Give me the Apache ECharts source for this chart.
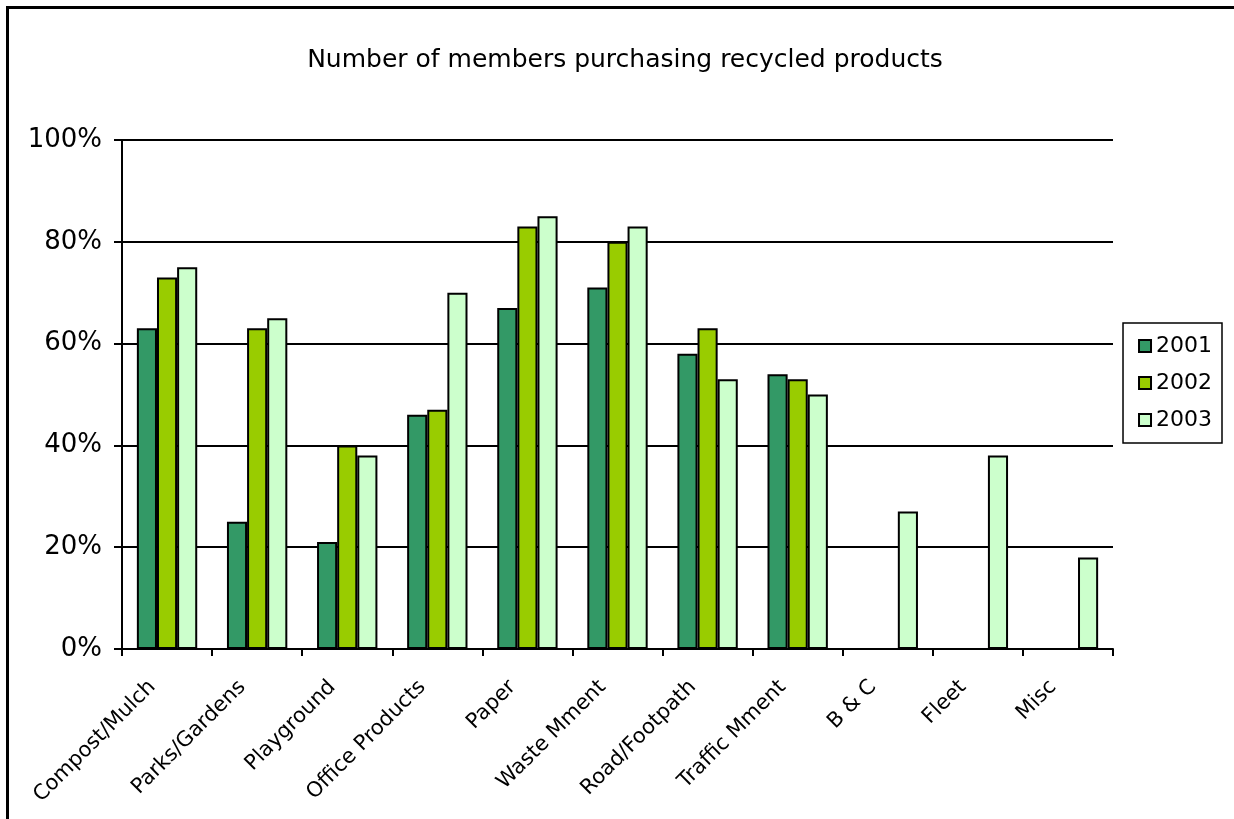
<!DOCTYPE html>
<html>
<head>
<meta charset="utf-8">
<script src="https://cdn.jsdelivr.net/npm/echarts@6/dist/echarts.min.js"></script>
<style>html,body{margin:0;padding:0;background:#fff;}#c{width:1234px;height:819px;}</style>
</head>
<body>
<div id="c"></div>
<script>
const categories = ['Compost/Mulch','Parks/Gardens','Playground','Office Products','Paper','Waste Mment','Road/Footpath','Traffic Mment','B & C','Fleet','Misc'];
const seriesNames = ['2001','2002','2003'];
const values2001 = [63, 25, 21, 46, 67, 71, 58, 54, null, null, null];
const values2002 = [73, 63, 40, 47, 83, 80, 63, 53, null, null, null];
const values2003 = [75, 65, 38, 70, 85, 83, 53, 50, 27, 38, 18];
const yTicks = [0, 20, 40, 60, 80, 100];
const colors = ['#339966', '#99CC00', '#CCFFCC'];
const titleText = 'Number of members purchasing recycled products';

const FONT = 'DejaVu Sans';
const chart = echarts.init(document.getElementById('c'), null, {renderer: 'canvas'});
const seriesData = [values2001, values2002, values2003];
chart.setOption({
  animation: false,
  backgroundColor: '#fff',
  title: {
    text: titleText, left: 620, top: 43, textAlign: 'center',
    textStyle: {fontFamily: FONT, fontSize: 25, fontWeight: 'normal', color: '#000'}
  },
  grid: {left: 122, right: 121, top: 140, bottom: 170, containLabel: false},
  legend: {
    orient: 'vertical', right: 12, top: 323,
    data: seriesNames,
    icon: 'rect', itemWidth: 12, itemHeight: 12, itemGap: 15,
    borderColor: '#000', borderWidth: 1.5, padding: [12, 10, 12, 15],
    textStyle: {fontFamily: FONT, fontSize: 22, color: '#000', lineHeight: 22}
  },
  xAxis: {
    type: 'category', data: categories,
    axisLine: {lineStyle: {color: '#000', width: 2}},
    axisTick: {show: true, alignWithLabel: false, length: 7, lineStyle: {color: '#000', width: 2}},
    axisLabel: {rotate: 45, interval: 0, margin: 20, padding: [0, 21, 0, 0], fontFamily: FONT, fontSize: 21, color: '#000'}
  },
  yAxis: {
    type: 'value', min: 0, max: 100, interval: 20,
    axisLine: {show: true, lineStyle: {color: '#000', width: 2}},
    axisTick: {show: true, length: 8, lineStyle: {color: '#000', width: 2}},
    axisLabel: {formatter: v => yTicks.includes(v) ? v + '%' : '', margin: 20, fontFamily: FONT, fontSize: 26, color: '#000'},
    splitLine: {lineStyle: {color: '#000', width: 2}}
  },
  series: seriesNames.map((n, i) => ({
    name: n, type: 'bar', data: seriesData[i],
    barGap: '0%', barCategoryGap: '33%',
    itemStyle: {color: colors[i], borderColor: '#000', borderWidth: 2}
  })),
  graphic: [{
    type: 'rect', silent: true, z: 100,
    shape: {x: 7.5, y: 7.5, width: 1400, height: 1000},
    style: {fill: 'none', stroke: '#000', lineWidth: 3}
  }]
});
</script>
</body>
</html>
